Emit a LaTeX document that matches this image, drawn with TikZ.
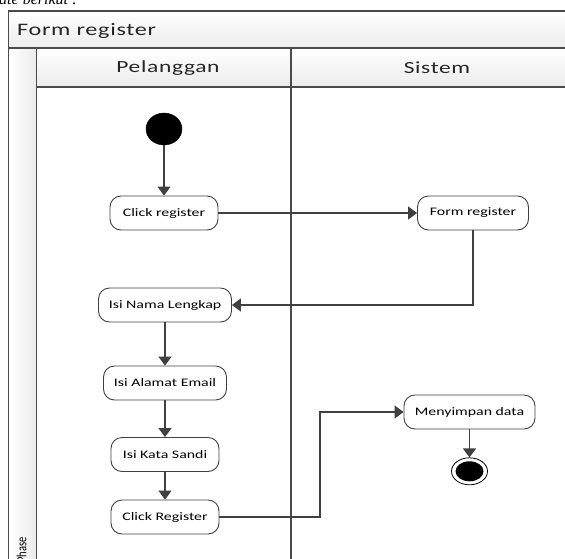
\documentclass[tikz,border=0pt]{standalone}
\usepackage{fontspec}
\setmainfont{Carlito}[FakeStretch=1.38]
\newfontfamily\headfont{Carlito}[FakeStretch=1.38, LetterSpace=4]
\newfontfamily\serifit{Liberation Serif}[Scale=1]
\newfontfamily\narrowfont{Carlito}[FakeStretch=0.75]
\usetikzlibrary{arrows.meta,shapes.geometric}
\definecolor{ln}{HTML}{404040}
\definecolor{fr}{HTML}{4A4A4A}
\definecolor{hd}{HTML}{ECECEC}
\begin{document}
\begin{tikzpicture}[x=1pt,y=-1pt,
  act/.style={draw=ln, line width=0.9pt, rounded corners=11pt, fill=white,
    minimum height=34pt, inner sep=0pt, font=\fontsize{11.5}{13}\selectfont},
  flow/.style={draw=ln, line width=1.5pt, -{Triangle[length=9pt,width=13pt]}},
  frameline/.style={draw=fr, line width=1.3pt},
  headtxt/.style={font=\headfont\fontsize{17}{18}\selectfont, text=black!85}
]
\useasboundingbox (0,0) rectangle (565,558);
\clip (0,0) rectangle (565,558);

% cut-off text above the diagram
\node[anchor=base west, inner sep=0pt, font=\serifit\itshape\fontsize{16}{16}\selectfont] (above) at (-1,4.5) {ate berikut :};

% swimlane frame
\shade[top color=white, bottom color=hd] (8.5,11) rectangle (600,48);
\shade[top color=white, bottom color=hd] (36.5,48) rectangle (600,87);
\shade[left color=white, right color=hd] (8.5,48) rectangle (36.5,600);
\draw[frameline] (8.5,11) rectangle (600,600);
\draw[frameline] (8.5,48) -- (600,48);
\draw[frameline] (36.5,48) -- (36.5,600);
\draw[frameline] (36.5,87) -- (600,87);
\draw[frameline] (291,48) -- (291,600);

\node[anchor=west, inner sep=0pt, font=\headfont\fontsize{17.5}{18}\selectfont, text=black!85] (title) at (17,31) {Form register};
\node[headtxt] (lane1) at (168,68) {Pelanggan};
\node[headtxt] (lane2) at (437,68) {Sistem};
\node[rotate=90, anchor=east, inner sep=0pt, font=\narrowfont\fontsize{14}{14}\selectfont] (phase) at (21.5,537) {Phase};

% activity nodes
\node[ellipse, fill=black, draw=black, minimum width=36pt, minimum height=32pt, inner sep=0pt] (start) at (164,129) {};
\node[act, minimum width=108pt] (cr) at (164,213) {Click register};
\node[act, minimum width=111pt] (fr) at (473,213) {Form register};
\node[act, minimum width=133pt] (nama) at (165,305) {Isi Nama Lengkap};
\node[act, minimum width=123pt] (email) at (165,383) {Isi Alamat Email};
\node[act, minimum width=108pt] (sandi) at (165,454.5) {Isi Kata Sandi};
\node[act, minimum width=108pt] (cr2) at (165,517) {Click Register};
\node[act, minimum width=131pt] (simpan) at (469.5,412) {Menyimpan data};
\node[ellipse, draw=black, line width=0.8pt, fill=white, minimum width=36pt, minimum height=27pt, inner sep=0pt] (end) at (469.5,471.3) {};
\node[ellipse, fill=black, minimum width=28pt, minimum height=20pt, inner sep=0pt] (endin) at (469.5,471.3) {};

\coordinate (bend) at (320,0);

% connectors
\draw[flow] (start) -- (cr);
\draw[flow] (cr) -- (fr);
\draw[flow] (fr.south) |- (nama.east);
\draw[flow] (nama) -- (email);
\draw[flow] (email) -- (sandi);
\draw[flow] (sandi) -- (cr2);
\draw[flow] (cr2.east) -- (cr2.east -| bend) |- (simpan.west);
\draw[flow] (simpan) -- (end);
\end{tikzpicture}
\end{document}
